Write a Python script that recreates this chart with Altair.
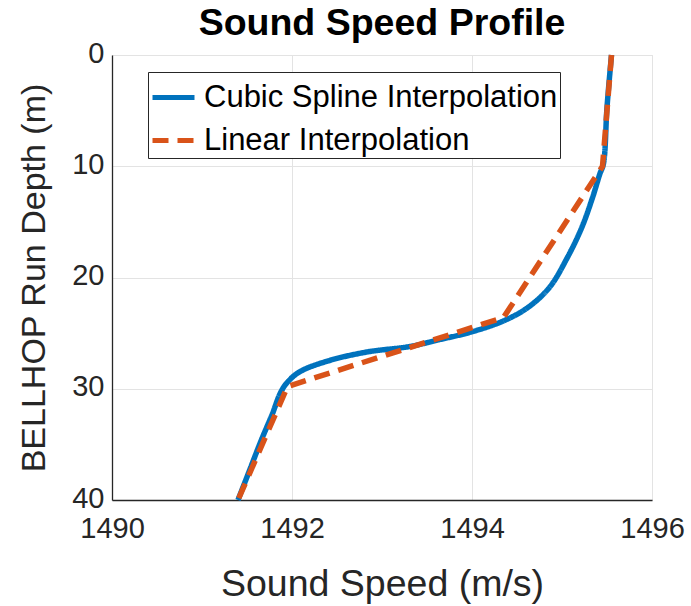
import altair as alt
import pandas as pd

# Cubic spline interpolation curve
spline_speed = [1495.55, 1495.50, 1495.46, 1495.42, 1495.34, 1495.22, 1495.06, 1494.86,
                1494.62, 1494.35, 1493.99, 1493.63, 1493.31, 1492.83, 1492.40, 1492.08,
                1491.94, 1491.87, 1491.78, 1491.66, 1491.53, 1491.40]
spline_depth = [0.0, 4.7, 9.8, 10.7, 12.8, 15.5, 18.2, 20.9,
                22.7, 23.9, 24.9, 25.6, 26.2, 26.7, 27.5, 28.5,
                29.5, 30.4, 32.3, 34.6, 37.3, 40.0]

# Linear interpolation nodes
linear_speed = [1495.55, 1495.45, 1494.35, 1491.95, 1491.40]
linear_depth = [0.0, 10.0, 23.6, 29.8, 40.0]

series_names = ["Cubic Spline Interpolation", "Linear Interpolation"]
series_colors = ["#0072BD", "#D95319"]

x_ticks = [1490, 1492, 1494, 1496]
y_ticks = [0, 10, 20, 30, 40]

df_spline = pd.DataFrame({"series": series_names[0], "speed": spline_speed, "depth": spline_depth})
df_linear = pd.DataFrame({"series": series_names[1], "speed": linear_speed, "depth": linear_depth})

FONT = "Liberation Sans"
TXT = "#262626"

x_enc = alt.X("speed:Q",
              scale=alt.Scale(domain=[1490, 1496], nice=False, zero=False),
              axis=alt.Axis(values=x_ticks, title="Sound Speed (m/s)", format="d",
                            titleFontSize=37.5, labelPadding=14, titlePadding=22,
                            labelFlush=False))
y_enc = alt.Y("depth:Q",
              scale=alt.Scale(domain=[0, 40], reverse=True, nice=False),
              axis=alt.Axis(values=y_ticks, title="BELLHOP Run Depth (m)",
                            titleFontSize=34, labelPadding=8, titlePadding=20,
                            labelFlush=False, labelOffset=-2))
color_enc = alt.Color("series:N",
                      scale=alt.Scale(domain=series_names, range=series_colors),
                      legend=alt.Legend(title=None))
dash_enc = alt.StrokeDash("series:N",
                          scale=alt.Scale(domain=series_names, range=[[1, 0], [16, 9]]),
                          legend=alt.Legend(title=None))

spline = alt.Chart(df_spline).mark_line(strokeWidth=5.5, interpolate="catmull-rom").encode(
    x=x_enc, y=y_enc, color=color_enc, strokeDash=dash_enc, order=alt.Order("depth:Q"))
linear = alt.Chart(df_linear).mark_line(strokeWidth=5.5, interpolate="linear").encode(
    x=x_enc, y=y_enc, color=color_enc, strokeDash=dash_enc, order=alt.Order("depth:Q"))

chart = alt.layer(spline, linear).properties(
    width=540,
    height=445,
    title=alt.TitleParams("Sound Speed Profile", fontSize=37.5, fontWeight="bold",
                          font=FONT, color="#000000", anchor="middle", offset=-3),
    autosize=alt.AutoSizeParams(type="none"),
    padding={"left": 112, "top": 55, "right": 39, "bottom": 106},
).configure_view(
    stroke="#e3e3e3", strokeWidth=1
).configure_axis(
    labelFont=FONT, labelFontSize=29, labelColor=TXT,
    titleFont=FONT, titleFontWeight="normal", titleColor=TXT,
    domainColor=TXT, domainWidth=1.3,
    gridColor="#e3e3e3", gridWidth=1,
    ticks=False, tickSize=0,
).configure_legend(
    orient="none", legendX=36, legendY=17,
    strokeColor=TXT, fillColor="white", padding=2, cornerRadius=0,
    symbolType="stroke", symbolSize=1764, symbolStrokeWidth=5,
    labelFont=FONT, labelFontSize=31, labelColor="#000000",
    labelOffset=7, labelLimit=600, rowPadding=4,
)

chart.save("out.html", embed_options={"renderer": "svg", "actions": False})
